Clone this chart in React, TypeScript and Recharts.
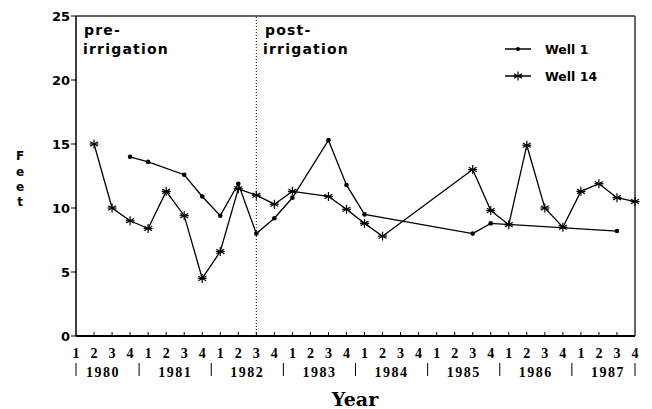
import React from 'react';
import { LineChart, Line, XAxis, YAxis, ReferenceLine } from 'recharts';

// quarter index 0 = 1980 Q1 ... 31 = 1987 Q4
const QUARTERS = ['1', '2', '3', '4'];
const YEARS = ['1980', '1981', '1982', '1983', '1984', '1985', '1986', '1987'];
const Y_TICKS = [0, 5, 10, 15, 20, 25];
const X_TICKS = Array.from({ length: 32 }, (_, i) => i);

const WELL_1: (number | null)[] = [
  null, null, null, 14.0, 13.6, null, 12.6, 10.9,
  9.4, 11.9, 8.0, 9.2, 10.8, null, 15.3, 11.8,
  9.5, null, null, null, null, null, 8.0, 8.8,
  null, null, null, null, null, null, 8.2, null,
];

const WELL_14: (number | null)[] = [
  null, 15.0, 10.0, 9.0, 8.4, 11.3, 9.4, 4.5,
  6.6, 11.5, 11.0, 10.3, 11.3, null, 10.9, 9.9,
  8.8, 7.8, null, null, null, null, 13.0, 9.8,
  8.7, 14.9, 10.0, 8.5, 11.3, 11.9, 10.8, 10.5,
];

const data = X_TICKS.map((q, i) => ({ q, well1: WELL_1[i], well14: WELL_14[i] }));

const AXIS_Y = 336;
const STEP = 559 / 31;

const Asterisk = ({ cx, cy, r = 4.5 }: { cx: number; cy: number; r?: number }) => {
  const d = r * 0.87;
  const h = r * 0.5;
  return (
    <g stroke="#000" strokeWidth={1.2}>
      <line x1={cx} y1={cy - r} x2={cx} y2={cy + r} />
      <line x1={cx - d} y1={cy - h} x2={cx + d} y2={cy + h} />
      <line x1={cx - d} y1={cy + h} x2={cx + d} y2={cy - h} />
      <line x1={cx - r} y1={cy} x2={cx + r} y2={cy} />
    </g>
  );
};

const StarDot = (p: any) => {
  if (p.cy == null || p.value == null) return <g key={`s${p.index}`} />;
  return <g key={`s${p.index}`}><Asterisk cx={p.cx} cy={p.cy} /></g>;
};

const SmallDot = (p: any) => {
  if (p.cy == null || p.value == null) return <g key={`d${p.index}`} />;
  return <circle key={`d${p.index}`} cx={p.cx} cy={p.cy} r={2.3} fill="#000" />;
};

const QuarterTick = (props: any) => {
  const { x, payload } = props;
  const i = payload.value as number;
  const font = { fontFamily: 'Liberation Serif', fontSize: 14, fontWeight: 'bold' as const, fill: '#000' };
  let sepX: number | null = null;
  if (i === 0 || i === 31) sepX = x;
  else if (i % 4 === 0) sepX = x - STEP / 2;
  return (
    <g>
      {i > 0 && i < 31 && <line x1={x} x2={x} y1={AXIS_Y} y2={AXIS_Y - 4} stroke="#000" strokeWidth={1} />}
      <text x={x} y={353} textAnchor="middle" dominantBaseline="central" {...font}>
        {QUARTERS[i % 4]}
      </text>
      {i % 4 === 1 && (
        <text x={x + STEP / 2} y={372} textAnchor="middle" dominantBaseline="central" letterSpacing={1.5} {...font}>
          {YEARS[Math.floor(i / 4)]}
        </text>
      )}
      {sepX != null && <line x1={sepX} x2={sepX} y1={363} y2={376} stroke="#000" strokeWidth={1} />}
    </g>
  );
};

const labelFont = { fontFamily: 'DejaVu Sans', fontWeight: 'bold' as const, fill: '#000' };

export default function App() {
  return (
    <div style={{ position: 'absolute', left: 0, top: 0, width: 652, height: 409, background: '#fff' }}>
      <LineChart width={652} height={409} data={data} margin={{ top: 16, right: 17, left: 0, bottom: 0 }}>
        <XAxis
          dataKey="q"
          type="number"
          domain={[0, 31]}
          ticks={X_TICKS}
          interval={0}
          height={73}
          tickLine={false}
          axisLine={{ stroke: '#000', strokeWidth: 2 }}
          tick={<QuarterTick />}
        />
        <YAxis
          type="number"
          domain={[0, 25]}
          ticks={Y_TICKS}
          width={76}
          tickSize={5}
          tickMargin={1}
          tickLine={{ stroke: '#000' }}
          axisLine={{ stroke: '#000', strokeWidth: 1.5 }}
          tick={{ ...labelFont, fontSize: 13 }}
        />
        <ReferenceLine y={25} stroke="#333" strokeWidth={1.5} />
        <ReferenceLine x={31} stroke="#333" strokeWidth={1.5} />
        <ReferenceLine x={10} stroke="#000" strokeWidth={1} strokeDasharray="1 2" />
        <Line
          dataKey="well1"
          stroke="#000"
          strokeWidth={1.3}
          connectNulls
          dot={SmallDot}
          activeDot={false}
          isAnimationActive={false}
        />
        <Line
          dataKey="well14"
          stroke="#000"
          strokeWidth={1.3}
          connectNulls
          dot={StarDot}
          activeDot={false}
          isAnimationActive={false}
        />
      </LineChart>
      <svg width={652} height={409} style={{ position: 'absolute', left: 0, top: 0, pointerEvents: 'none' }}>
        <g {...labelFont} fontSize={14} letterSpacing={1.2}>
          <text x={84} y={35}>pre-</text>
          <text x={83} y={54}>irrigation</text>
          <text x={265} y={35}>post-</text>
          <text x={263} y={54}>irrigation</text>
        </g>
        <g>
          <line x1={505} x2={531} y1={49} y2={49} stroke="#000" strokeWidth={1.5} />
          <circle cx={518} cy={49} r={2} fill="#000" />
          <text x={545} y={49} dominantBaseline="central" fontSize={12.5} {...labelFont}>Well 1</text>
          <line x1={505} x2={531} y1={76} y2={76} stroke="#000" strokeWidth={1.5} />
          <Asterisk cx={518} cy={76} r={4.5} />
          <text x={545} y={76} dominantBaseline="central" fontSize={12.5} {...labelFont}>Well 14</text>
        </g>
        <g {...labelFont} fontSize={12} textAnchor="middle" dominantBaseline="central">
          <text x={20} y={156}>F</text>
          <text x={20} y={172}>e</text>
          <text x={20} y={187}>e</text>
          <text x={20} y={202}>t</text>
        </g>
        <text x={355} y={399} textAnchor="middle" dominantBaseline="central" fontFamily="DejaVu Serif" fontWeight="bold" fontSize={19} fill="#000">
          Year
        </text>
      </svg>
    </div>
  );
}
